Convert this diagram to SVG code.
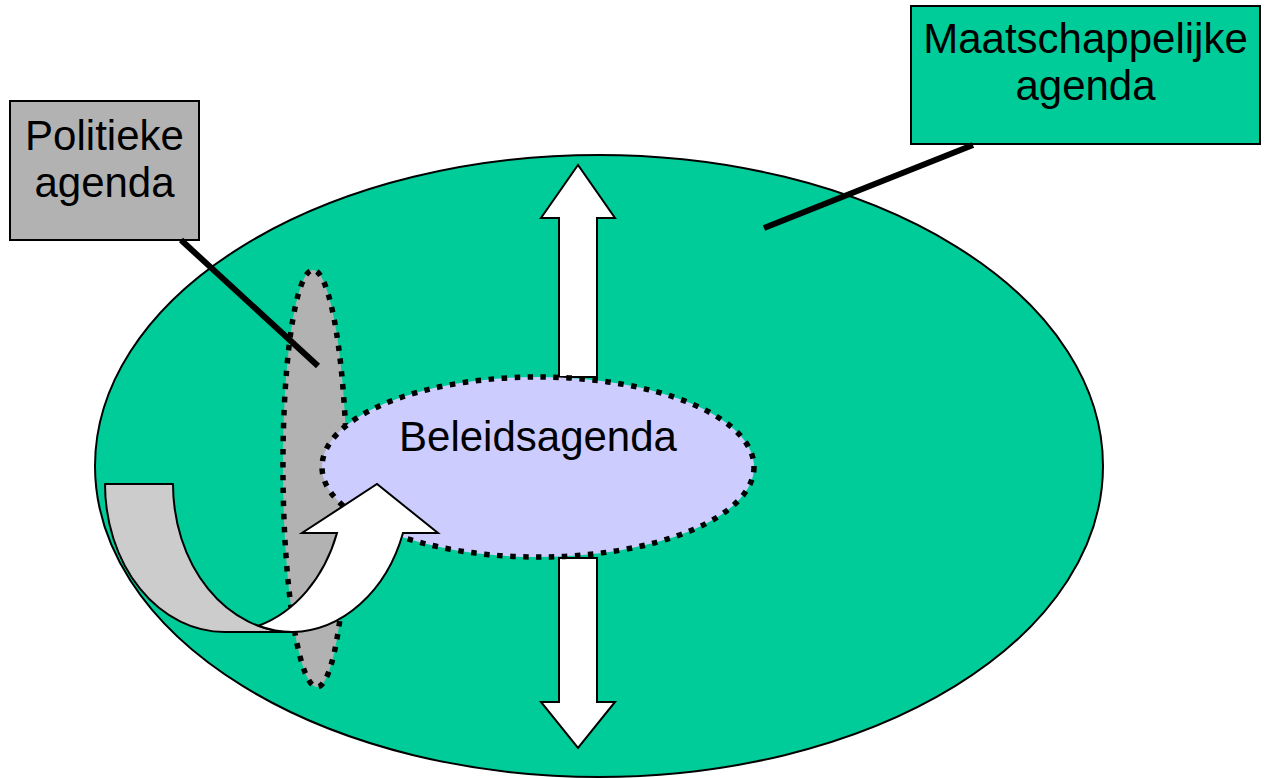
<svg xmlns="http://www.w3.org/2000/svg" width="1272" height="778" viewBox="0 0 1272 778">
  <style>
    .label { font-family: "Liberation Sans", Arial, sans-serif; font-size: 42px; fill: #000; text-anchor: middle; }
    .box { stroke: #000; stroke-width: 2; }
    .dotted { stroke: #000; stroke-width: 5.5; stroke-dasharray: 5.5 7.5; }
    .block { fill: #fff; stroke: #000; stroke-width: 2; stroke-linejoin: miter; }
    .leader { stroke: #000; stroke-width: 6; fill: none; }
  </style>

  <!-- society-wide agenda: the large field -->
  <g id="maatschappij-veld">
    <ellipse cx="599" cy="466" rx="504" ry="311" fill="#00cc99" stroke="#000" stroke-width="2"/>
  </g>

  <!-- political agenda: narrow vertical ellipse -->
  <g id="politiek-veld">
    <ellipse cx="315" cy="478.5" rx="32" ry="208.5" transform="rotate(-0.55 315 478.5)" fill="#b2b2b2" class="dotted"/>
  </g>

  <!-- vertical double block arrows -->
  <g id="pijl-omhoog">
    <polygon class="block" points="559,377 559,218 541,218 578,165 615,218 597,218 597,377"/>
  </g>
  <g id="pijl-omlaag">
    <polygon class="block" points="559,558 597,558 597,702 615,702 578,748 541,702 559,702"/>
  </g>

  <!-- policy agenda -->
  <g id="beleidsagenda">
    <ellipse cx="538" cy="467" rx="216" ry="90" fill="#ccccff" class="dotted"/>
    <text class="label" x="538" y="451">Beleidsagenda</text>
  </g>

  <!-- curved up arrow: back face and front face -->
  <g id="gebogen-pijl">
    <path fill="#cccccc" stroke="#000" stroke-width="2" stroke-linejoin="round"
          d="M105,484 A119.4,148 0 0 0 224.4,632 L292.4,632 A119.4,148 0 0 1 173,484 Z"/>
    <path class="block" stroke-linejoin="round"
          d="M258.4,625.7 A119.4,148 0 0 0 337,533 L302,533 L377,484 L438,533 L403,533 A119.4,148 0 0 1 292.4,632 A119.4,148 0 0 1 258.4,625.7 Z"/>
  </g>

  <!-- label boxes -->
  <g id="politieke-agenda">
    <rect class="box" x="10" y="101" width="189" height="139" fill="#b2b2b2"/>
    <text class="label" x="104.5" y="150">Politieke</text>
    <text class="label" x="104.5" y="197">agenda</text>
  </g>
  <g id="maatschappelijke-agenda">
    <rect class="box" x="911" y="6" width="349" height="138" fill="#00cc99"/>
    <text class="label" x="1085.5" y="53">Maatschappelijke</text>
    <text class="label" x="1085.5" y="100">agenda</text>
  </g>

  <!-- callout leaders -->
  <g id="verbindingen">
    <line class="leader" x1="181" y1="240" x2="318" y2="366"/>
    <line class="leader" x1="973" y1="145" x2="764" y2="228"/>
  </g>
</svg>
